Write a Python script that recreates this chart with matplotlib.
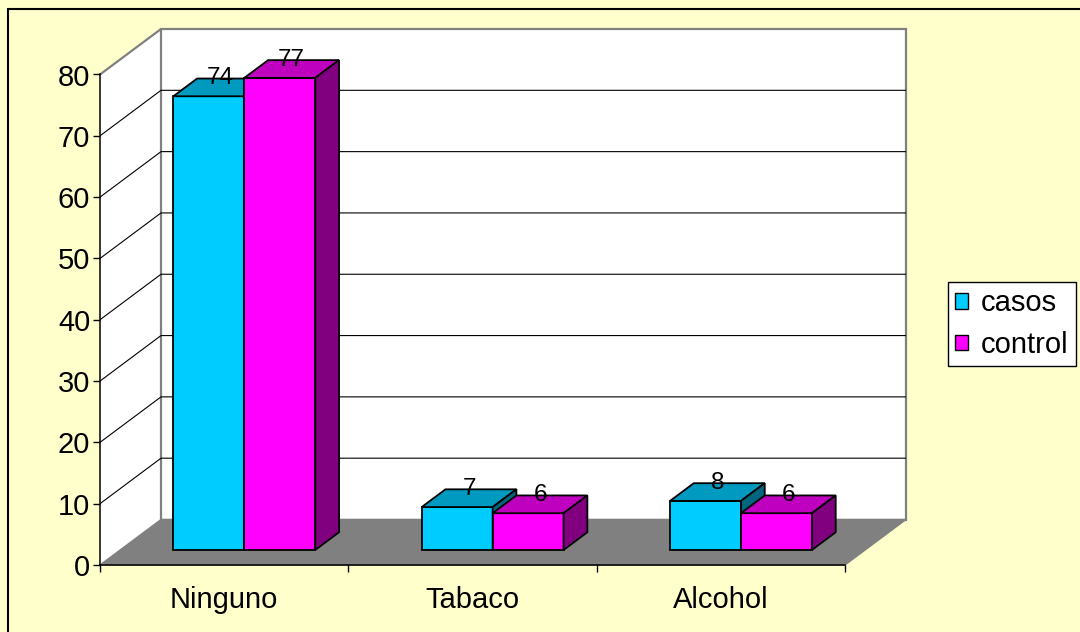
import matplotlib
matplotlib.use("Agg")
import matplotlib.pyplot as plt
from matplotlib.patches import Polygon, Rectangle, Patch
from matplotlib.transforms import IdentityTransform

# data
categories = ["Ninguno", "Tabaco", "Alcohol"]
casos = [74, 7, 8]
control = [77, 6, 6]
series_names = ["casos", "control"]
y_ticks = [0, 10, 20, 30, 40, 50, 60, 70, 80]

# colours: front, top, side
casos_colors = ("#00CCFF", "#0099BF", "#006680")
control_colors = ("#FF00FF", "#BF00BF", "#800080")

plt.rcParams["font.family"] = ["Liberation Sans", "DejaVu Sans"]

W, H = 1080, 632
fig = plt.figure(figsize=(W / 100, H / 100), dpi=100, facecolor="#FFFFCC")

# front plane of the 3D box
ax = fig.add_axes([100 / W, (H - 565) / H, 745 / W, 490.5 / H])
ax.set_xlim(0, 3)
ax.set_ylim(0, 80)
ax.patch.set_visible(False)

DEPTH = (61, 45.5)  # full depth offset in pixels
BAR_W = 1 / 3.5     # gap width 150%
D0, D1 = 0.33, 0.72  # bar depth span


def proj(x, v, d):
    px, py = ax.transData.transform((x, v))
    return (px + DEPTH[0] * d, py + DEPTH[1] * d)


def face(pts, fc, ec="none", lw=0.0, z=1):
    p = Polygon(pts, closed=True, facecolor=fc, edgecolor=ec, linewidth=lw,
                transform=IdentityTransform(), zorder=z, joinstyle="miter")
    p.set_clip_on(False)
    ax.add_patch(p)


def line(pts, color, lw, z=1.5):
    xs = [p[0] for p in pts]
    ys = [p[1] for p in pts]
    ln = ax.plot(xs, ys, color=color, lw=lw, transform=IdentityTransform(),
                 zorder=z, solid_capstyle="butt")[0]
    ln.set_clip_on(False)


ymax = y_ticks[-1]
ncat = len(categories)

# walls and floor
face([proj(0, 0, 0), proj(0, 0, 1), proj(0, ymax, 1), proj(0, ymax, 0)], "white", z=0.5)
face([proj(0, 0, 1), proj(ncat, 0, 1), proj(ncat, ymax, 1), proj(0, ymax, 1)],
     "white", ec="#808080", lw=1.6, z=0.5)
for v in y_ticks[1:-1]:
    line([proj(0, v, 0), proj(0, v, 1), proj(ncat, v, 1)], "black", 0.8, z=0.8)
line([proj(0, ymax, 0), proj(0, ymax, 1)], "#808080", 1.6, z=0.8)
face([proj(0, 0, 0), proj(ncat, 0, 0), proj(ncat, 0, 1), proj(0, 0, 1)],
     "#808080", ec="#808080", lw=1.0, z=0.9)

# bars
for i in range(ncat):
    for j, (vals, cols) in enumerate([(casos, casos_colors), (control, control_colors)]):
        v = vals[i]
        x0 = i + 0.5 - BAR_W + j * BAR_W
        x1 = x0 + BAR_W
        z = 2 + i + 0.1 * j
        face([proj(x0, 0, D0), proj(x1, 0, D0), proj(x1, v, D0), proj(x0, v, D0)],
             cols[0], ec="black", lw=1.3, z=z)
        face([proj(x0, v, D0), proj(x1, v, D0), proj(x1, v, D1), proj(x0, v, D1)],
             cols[1], ec="black", lw=1.3, z=z)
        face([proj(x1, 0, D0), proj(x1, 0, D1), proj(x1, v, D1), proj(x1, v, D0)],
             cols[2], ec="black", lw=1.3, z=z)
        lx, ly = proj((x0 + x1) / 2, v, (D0 + D1) / 2)
        ax.text(lx, ly + 9, str(v), transform=IdentityTransform(), ha="center",
                va="center", fontsize=17.5, color="black", zorder=20, clip_on=False)

# axes
for s in ("top", "right"):
    ax.spines[s].set_visible(False)
for s in ("left", "bottom"):
    ax.spines[s].set_color("black")
    ax.spines[s].set_linewidth(1.1)
    ax.spines[s].set_zorder(1.2)

ax.set_yticks(y_ticks)
ax.tick_params(axis="y", direction="out", length=5, width=1, labelsize=21, pad=2)
ax.set_xticks(range(ncat + 1))
ax.set_xticklabels([])
ax.tick_params(axis="x", which="major", direction="out", length=5, width=1)
ax.set_xticks([i + 0.5 for i in range(ncat)], minor=True)
ax.set_xticklabels(categories, minor=True)
ax.tick_params(axis="x", which="minor", length=0, labelsize=21, pad=15)

# legend
handles = [Patch(facecolor=casos_colors[0], edgecolor="black"),
           Patch(facecolor=control_colors[0], edgecolor="black")]
leg = fig.legend(handles, series_names, loc="center left",
                 bbox_to_anchor=(948 / W, 1 - 324 / H), frameon=True, fancybox=False,
                 edgecolor="black", framealpha=1, fontsize=21,
                 handlelength=0.42, handleheight=0.42, handletextpad=0.45,
                 borderpad=0.25, labelspacing=0.45, borderaxespad=0)
leg.get_frame().set_linewidth(1.0)

# chart area border
fig.patches.append(Rectangle((8 / W, -0.1), 1.2, 1.1 - 9 / H, transform=fig.transFigure,
                             fill=False, edgecolor="black", linewidth=1.5))

fig.savefig("out.png", dpi=100, facecolor=fig.get_facecolor())
